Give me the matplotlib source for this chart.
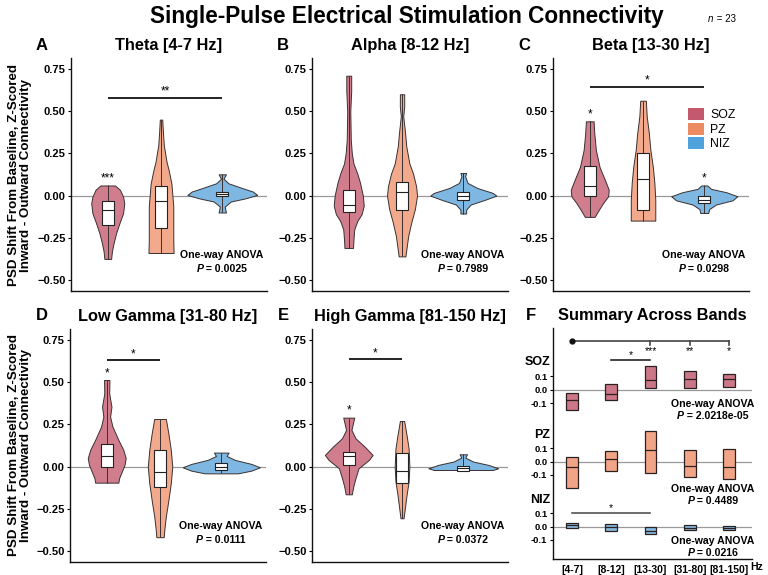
import matplotlib
matplotlib.use('Agg')
import matplotlib.pyplot as plt
from matplotlib.patches import Rectangle, Patch
from matplotlib.offsetbox import TextArea, HPacker, AnnotationBbox
import numpy as np

plt.rcParams['font.family'] = ['Liberation Sans', 'DejaVu Sans']

# ---------------- data ----------------
groups = ['SOZ', 'PZ', 'NIZ']
band_titles = ['Theta [4-7 Hz]', 'Alpha [8-12 Hz]', 'Beta [13-30 Hz]',
               'Low Gamma [31-80 Hz]', 'High Gamma [81-150 Hz]']
panel_letters = ['A', 'B', 'C', 'D', 'E', 'F']
band_ticks = ['[4-7]', '[8-12]', '[13-30]', '[31-80]', '[81-150]']
anova_p = ['0.0025', '0.7989', '0.0298', '0.0111', '0.0372']

# violin outlines: (value, half-width)
theta_soz = [(0.06, 0.12), (0.034, 0.2), (-0.006, 0.25), (-0.045, 0.27), (-0.105, 0.25),
             (-0.164, 0.19), (-0.223, 0.136), (-0.282, 0.095), (-0.33, 0.068), (-0.375, 0.055)]
theta_pz = [(0.45, 0.02), (0.38, 0.03), (0.30, 0.045), (0.20, 0.09), (0.15, 0.125),
            (0.07, 0.17), (-0.065, 0.2), (-0.26, 0.2), (-0.34, 0.205)]
theta_niz = [(0.126, 0.06), (0.10, 0.02), (0.073, 0.1), (0.043, 0.34), (0.024, 0.5),
             (0.004, 0.57), (-0.016, 0.38), (-0.035, 0.14), (-0.065, 0.04), (-0.10, 0.06)]

alpha_soz = [(0.71, 0.04), (0.62, 0.04), (0.50, 0.025), (0.33, 0.033), (0.25, 0.05),
             (0.19, 0.077), (0.13, 0.14), (0.075, 0.185), (0.0, 0.23), (-0.06, 0.245),
             (-0.11, 0.21), (-0.15, 0.14), (-0.20, 0.09), (-0.26, 0.077), (-0.31, 0.07)]
alpha_pz = [(0.60, 0.035), (0.53, 0.036), (0.47, 0.02), (0.37, 0.05), (0.29, 0.07),
            (0.19, 0.12), (0.13, 0.18), (0.055, 0.23), (0.0, 0.245), (-0.08, 0.21),
            (-0.16, 0.15), (-0.24, 0.1), (-0.32, 0.07), (-0.36, 0.055)]
alpha_niz = [(0.134, 0.047), (0.115, 0.03), (0.075, 0.07), (0.045, 0.23), (0.016, 0.48),
             (0.0, 0.54), (-0.024, 0.36), (-0.053, 0.12), (-0.083, 0.047), (-0.106, 0.047)]

beta_soz = [(0.44, 0.063), (0.37, 0.074), (0.27, 0.1), (0.17, 0.16), (0.095, 0.245),
            (0.035, 0.31), (-0.004, 0.3), (-0.043, 0.22), (-0.083, 0.15), (-0.126, 0.08)]
beta_pz = [(0.562, 0.046), (0.47, 0.06), (0.37, 0.095), (0.27, 0.12), (0.17, 0.16),
           (0.075, 0.185), (-0.024, 0.2), (-0.148, 0.2)]
beta_niz = [(0.06, 0.05), (0.04, 0.11), (0.02, 0.36), (-0.004, 0.54), (-0.028, 0.46),
            (-0.053, 0.19), (-0.08, 0.08), (-0.103, 0.065)]

lowgamma_soz = [(0.513, 0.044), (0.434, 0.04), (0.355, 0.077), (0.296, 0.055), (0.237, 0.093),
                (0.158, 0.19), (0.10, 0.27), (0.05, 0.31), (0.01, 0.29), (-0.03, 0.245),
                (-0.07, 0.2), (-0.095, 0.19)]
lowgamma_pz = [(0.282, 0.095), (0.197, 0.136), (0.10, 0.175), (0.0, 0.2), (-0.10, 0.175),
               (-0.20, 0.136), (-0.30, 0.093), (-0.375, 0.07), (-0.418, 0.06)]
lowgamma_niz = [(0.083, 0.12), (0.063, 0.087), (0.04, 0.22), (0.016, 0.49), (-0.004, 0.63),
                (-0.024, 0.49), (-0.04, 0.27)]

highgamma_soz = [(0.29, 0.09), (0.256, 0.068), (0.217, 0.044), (0.168, 0.11), (0.118, 0.26),
                 (0.069, 0.39), (0.04, 0.33), (-0.01, 0.16), (-0.069, 0.11), (-0.118, 0.074),
                 (-0.164, 0.05)]
highgamma_pz = [(0.27, 0.035), (0.187, 0.074), (0.108, 0.107), (0.0, 0.12), (-0.089, 0.107),
                (-0.168, 0.074), (-0.247, 0.046), (-0.306, 0.025)]
highgamma_niz = [(0.073, 0.06), (0.053, 0.033), (0.03, 0.16), (0.01, 0.41), (-0.01, 0.57),
                 (-0.02, 0.48)]

# boxes (q1, median, q3) per group
theta_box = [(-0.172, -0.083, -0.03), (-0.193, -0.03, 0.055), (-0.002, 0.01, 0.02)]
alpha_box = [(-0.10, -0.053, 0.032), (-0.083, 0.02, 0.08), (-0.024, 0.0, 0.02)]
beta_box = [(0.0, 0.055, 0.178), (-0.087, 0.1, 0.252), (-0.043, -0.024, 0.0)]
lowgamma_box = [(0.0, 0.065, 0.134), (-0.122, -0.034, 0.1), (-0.02, 0.0, 0.02)]
highgamma_box = [(0.01, 0.063, 0.085), (-0.095, -0.026, 0.083), (-0.024, -0.01, 0.004)]

# significance: bar (from group, to group, height, label) and per-group stars
theta_bar = (0, 2, 0.58, '**')
beta_bar = (0, 2, 0.645, '*')
lowgamma_bar = (0, 1, 0.63, '*')
highgamma_bar = (0, 1, 0.635, '*')
theta_stars = ['***', '', '']
alpha_stars = ['', '', '']
beta_stars = ['*', '', '*']
lowgamma_stars = ['*', '', '']
highgamma_stars = ['*', '', '']

# summary across bands (q1, median, q3)
f_soz_box = [(-0.15, -0.075, -0.026), (-0.075, -0.03, 0.045), (0.015, 0.07, 0.178),
             (0.012, 0.077, 0.137), (0.02, 0.077, 0.12)]
f_pz_box = [(-0.198, -0.043, 0.033), (-0.073, 0.02, 0.078), (-0.085, 0.088, 0.226),
            (-0.113, -0.03, 0.088), (-0.135, -0.038, 0.095)]
f_niz_box = [(-0.007, 0.01, 0.025), (-0.03, 0.0, 0.023), (-0.055, -0.03, -0.005),
             (-0.027, -0.007, 0.01), (-0.022, -0.01, 0.005)]
f_anova_p = ['2.0218e-05', '0.4489', '0.0216']
f_soz_stars = ['', '', '***', '**', '*']

# ---------------- style ----------------
W, H = 768, 575
VIOLIN_C = ['#D07D8D', '#F3AA8C', '#7EB7E2']
LEGEND_C = ['#C4586D', '#EC8B62', '#4FA2DB']
F_C = ['#CB7787', '#F2A487', '#86B9E0']
EDGE = '#3a3030'
POS = [1.0, 1.87, 2.87]
BOXW = 0.095
BOLD = 'bold'


def rect(l, t, r, b):
    return [l / W, 1 - b / H, (r - l) / W, (b - t) / H]


def style_axes(ax, ysize=8):
    for s in ['top', 'right']:
        ax.spines[s].set_visible(False)
    for s in ['left', 'bottom']:
        ax.spines[s].set_linewidth(1.0)
        ax.spines[s].set_color('#111111')
    ax.tick_params(axis='y', length=2.5, width=0.8, pad=1.5, labelsize=ysize)
    for lab in ax.get_yticklabels():
        lab.set_fontweight(BOLD)


def ptext(ax, x, y, letter, rest, size, weight, coords, italic_weight=None):
    t1 = TextArea(letter, textprops=dict(fontsize=size, fontweight=italic_weight or weight,
                                         fontstyle='italic'))
    t2 = TextArea(rest, textprops=dict(fontsize=size, fontweight=weight))
    box = HPacker(children=[t1, t2], align='baseline', pad=0, sep=0)
    ab = AnnotationBbox(box, (x, y), xycoords=coords, frameon=False,
                        box_alignment=(0.5, 0.5), pad=0, annotation_clip=False)
    ax.add_artist(ab)


def draw_violin(ax, pos, profile, color, box):
    ys = np.array([p[0] for p in profile])
    hw = np.array([p[1] for p in profile])
    ax.fill_betweenx(ys, pos - hw, pos + hw, facecolor=color, edgecolor=EDGE,
                     linewidth=0.7, zorder=2)
    ax.vlines(pos, ys.min(), ys.max(), color=EDGE, lw=0.7, zorder=3)
    q1, med, q3 = box
    ax.add_patch(Rectangle((pos - BOXW, q1), 2 * BOXW, q3 - q1, facecolor='white',
                           edgecolor='#222222', lw=0.8, zorder=4))
    ax.hlines(med, pos - BOXW, pos + BOXW, color='#222222', lw=0.8, zorder=5)


fig = plt.figure(figsize=(W / 100, H / 100), dpi=100)

violin_sets = [
    ([theta_soz, theta_pz, theta_niz], theta_box, theta_bar, theta_stars),
    ([alpha_soz, alpha_pz, alpha_niz], alpha_box, None, alpha_stars),
    ([beta_soz, beta_pz, beta_niz], beta_box, beta_bar, beta_stars),
    ([lowgamma_soz, lowgamma_pz, lowgamma_niz], lowgamma_box, lowgamma_bar, lowgamma_stars),
    ([highgamma_soz, highgamma_pz, highgamma_niz], highgamma_box, highgamma_bar, highgamma_stars),
]
rects = [rect(71, 58, 267, 291), rect(312, 58, 508, 291), rect(553, 58, 749, 291),
         rect(70, 329, 266, 562), rect(312, 329, 508, 562)]

for i, (profiles, boxes, bar, stars) in enumerate(violin_sets):
    ax = fig.add_axes(rects[i])
    ax.set_xlim(0.4, 3.6)
    ax.set_ylim(-0.565, 0.815)
    ax.axhline(0, color='#999999', lw=0.9, zorder=1)
    for g in range(3):
        draw_violin(ax, POS[g], profiles[g], VIOLIN_C[g], boxes[g])
        if stars[g]:
            top = max(p[0] for p in profiles[g])
            ax.text(POS[g], top + 0.005, stars[g], ha='center', va='bottom', fontsize=8.5,
                    zorder=6)
    if bar is not None:
        g0, g1, yb, lab = bar
        ax.plot([POS[g0], POS[g1]], [yb, yb], color='#111111', lw=1.3, solid_capstyle='butt')
        ax.text((POS[g0] + POS[g1]) / 2, yb + 0.0, lab, ha='center', va='bottom', fontsize=8.5)
    ax.set_yticks([-0.5, -0.25, 0.0, 0.25, 0.5, 0.75])
    ax.set_yticklabels(['\u22120.50', '\u22120.25', '0.00', '0.25', '0.50', '0.75'])
    ax.set_xticks([])
    style_axes(ax)
    ax.set_title(band_titles[i], fontsize=11.8, fontweight=BOLD, pad=6)
    ax.text(0.77, 0.155, 'One-way ANOVA', transform=ax.transAxes, ha='center',
            va='center', fontsize=7.6, fontweight=BOLD)
    ptext(ax, 0.77, 0.095, 'P', ' = ' + anova_p[i], 7.6, BOLD, 'axes fraction')
    if i == 2:
        handles = [Patch(facecolor=c, edgecolor='none') for c in LEGEND_C]
        ax.legend(handles, groups, loc='upper left', bbox_to_anchor=(0.69, 0.785),
                  frameon=False, fontsize=8.8, handlelength=1.3, handleheight=1.15,
                  labelspacing=0.1, handletextpad=0.5, borderpad=0, borderaxespad=0)

# ---------------- panel F ----------------
axf = fig.add_axes(rect(553, 328, 752, 559))
ROW_OFF = [1.03, 0.49, 0.0]
xs = np.arange(1, 6)
axf.set_xlim(0.516, 5.586)
axf.set_ylim(-0.243, 1.494)
FBW = 0.15
for r, (rowboxes, off) in enumerate(zip([f_soz_box, f_pz_box, f_niz_box], ROW_OFF)):
    axf.axhline(off, color='#999999', lw=0.9, zorder=1)
    for x, (q1, med, q3) in zip(xs, rowboxes):
        axf.add_patch(Rectangle((x - FBW, off + q1), 2 * FBW, q3 - q1, facecolor=F_C[r],
                                edgecolor='#2b2020', lw=0.9, zorder=3))
        axf.hlines(off + med, x - FBW, x + FBW, color='#2b2020', lw=0.9, zorder=4)
    axf.text(-0.015, off + 0.2 if r else off + 0.21, groups[r],
             transform=axf.get_yaxis_transform(),
             ha='right', va='center', fontsize=9, fontweight=BOLD)

yt, yl = [], []
for off in ROW_OFF:
    yt += [off - 0.1, off, off + 0.1]
    yl += ['-0.1', '0.0', '0.1']
axf.set_yticks(yt)
axf.set_yticklabels(yl)
axf.set_xticks(xs)
axf.set_xticklabels(band_ticks, fontsize=7.5, fontweight=BOLD)
axf.tick_params(axis='x', length=0, pad=4)
style_axes(axf, ysize=6.8)
axf.set_title('Summary Across Bands', fontsize=11.8, fontweight=BOLD, pad=6)
fig.text(757 / W, 1 - 567 / H, 'Hz', ha='center', va='center', fontsize=7.5, fontweight=BOLD)

# F significance
BR = '#444444'
ytop = 1.396
axf.plot([1, 5], [ytop, ytop], color=BR, lw=1.2)
axf.plot([1], [ytop], 'o', color='#111111', ms=3.5)
for x, s in zip(xs, f_soz_stars):
    if s:
        axf.plot([x, x], [ytop, ytop - 0.03], color=BR, lw=1.2)
        axf.text(x, ytop - 0.035, s, ha='center', va='top', fontsize=7.5)
axf.plot([2, 3], [1.253, 1.253], color='#111111', lw=1.1)
axf.text(2.5, 1.255, '*', ha='center', va='bottom', fontsize=7.5)
axf.plot([1, 3], [0.1, 0.1], color='#444444', lw=1.1)
axf.text(2.0, 0.102, '*', ha='center', va='bottom', fontsize=7.5)

for off_txt, p in zip([(0.923, 0.832), (0.283, 0.195), (-0.108, -0.195)], f_anova_p):
    axf.text(4.59, off_txt[0], 'One-way ANOVA', ha='center', va='center', fontsize=7.6,
             fontweight=BOLD)
    ptext(axf, 4.59, off_txt[1], 'P', ' = ' + p, 7.6, BOLD, 'data')

# ---------------- figure texts ----------------
fig.text(407 / W, 1 - 17 / H, 'Single-Pulse Electrical Stimulation Connectivity',
         ha='center', va='center', fontsize=16.3, fontweight=BOLD)
ptext(axf, 722 / W, 1 - 19 / H, 'n', ' = 23', 7, 'normal', 'figure fraction')

for letter, (x, y) in zip(panel_letters, [(42, 46), (283, 46), (524, 46),
                                          (42, 316), (283, 316), (531, 316)]):
    fig.text(x / W, 1 - y / H, letter, ha='center', va='center', fontsize=12,
             fontweight=BOLD)

ylab = 'PSD Shift From Baseline, Z-Scored\nInward - Outward Connectivity'
for yc in [175, 445]:
    fig.text(20 / W, 1 - yc / H, ylab, rotation=90, ha='center', va='center',
             fontsize=9.6, fontweight=BOLD, linespacing=1.05)

fig.savefig('out.png', dpi=100)
